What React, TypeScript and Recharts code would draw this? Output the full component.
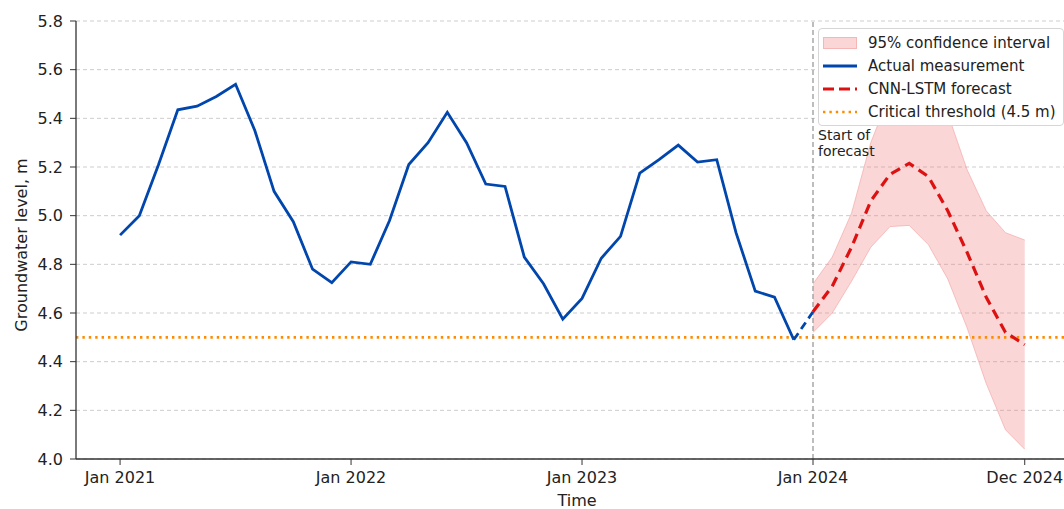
import {
  Area,
  CartesianGrid,
  ComposedChart,
  Legend,
  Line,
  ReferenceLine,
  XAxis,
  YAxis,
} from "recharts"

// monthly measured groundwater level, Jan 2021 .. Dec 2023
const actualLevels = [
  4.92, 5.0, 5.21, 5.435, 5.45, 5.49, 5.54, 5.35, 5.1, 4.975, 4.78, 4.725,
  4.81, 4.8, 4.98, 5.21, 5.3, 5.425, 5.3, 5.13, 5.12, 4.83, 4.72, 4.575,
  4.66, 4.825, 4.915, 5.175, 5.23, 5.29, 5.22, 5.23, 4.93, 4.69, 4.665, 4.49,
]

// CNN-LSTM forecast, Jan 2024 .. Dec 2024
const forecastLevels = [
  4.605, 4.71, 4.87, 5.06, 5.17, 5.215, 5.16, 5.02, 4.85, 4.665, 4.52, 4.47,
]
const ciLower = [4.52, 4.6, 4.73, 4.87, 4.955, 4.96, 4.88, 4.74, 4.54, 4.31, 4.12, 4.04]
const ciUpper = [4.72, 4.83, 5.01, 5.3, 5.5, 5.58, 5.58, 5.42, 5.19, 5.02, 4.93, 4.9]

const xTickMonths = [0, 12, 24, 36, 47]
const xTickLabels = ["Jan 2021", "Jan 2022", "Jan 2023", "Jan 2024", "Dec 2024"]
const yTicks = [4.0, 4.2, 4.4, 4.6, 4.8, 5.0, 5.2, 5.4, 5.6, 5.8]
const threshold = 4.5

const forecastStart = actualLevels.length
const FONT = "'DejaVu Sans', sans-serif"
const BLUE = "#0046ad"
const RED = "#dd1111"
const ORANGE = "#ff8c00"
const BAND = "#f08080"

const chartData = Array.from(
  { length: actualLevels.length + forecastLevels.length },
  (_, m) => {
    const i = m - forecastStart
    return {
      m,
      actual: m < forecastStart ? actualLevels[m] : undefined,
      forecast: i >= 0 ? forecastLevels[i] : undefined,
      band: i >= 0 ? [ciLower[i], ciUpper[i]] : undefined,
      bridge:
        m === forecastStart - 1
          ? actualLevels[m]
          : i === 0
          ? forecastLevels[0]
          : undefined,
    }
  }
)

const legendRows = [
  { key: "band", label: "95% confidence interval" },
  { key: "actual", label: "Actual measurement" },
  { key: "forecast", label: "CNN-LSTM forecast" },
  { key: "threshold", label: "Critical threshold (4.5 m)" },
]

function LegendHandle({ kind }: { kind: string }) {
  return (
    <svg width={34} height={14} style={{ display: "block" }}>
      {kind === "band" && (
        <rect
          x={0.5}
          y={1.5}
          width={33}
          height={11}
          fill={BAND}
          fillOpacity={0.32}
          stroke="#f2a0a0"
          strokeOpacity={0.7}
        />
      )}
      {kind === "actual" && (
        <line x1={0} y1={7} x2={34} y2={7} stroke={BLUE} strokeWidth={2.8} />
      )}
      {kind === "forecast" && (
        <line x1={0} y1={7} x2={34} y2={7} stroke={RED} strokeWidth={3.2} strokeDasharray="11 5" />
      )}
      {kind === "threshold" && (
        <line x1={0} y1={7} x2={34} y2={7} stroke={ORANGE} strokeWidth={2.6} strokeDasharray="2.4 4" />
      )}
    </svg>
  )
}

function LegendBox() {
  return (
    <div
      style={{
        background: "#fff",
        border: "1px solid #d6d6d6",
        borderRadius: 4,
        padding: "2px 4px 2px 4px",
        fontFamily: FONT,
        fontSize: 15,
        color: "#222",
      }}
    >
      {legendRows.map((r) => (
        <div key={r.key} style={{ display: "flex", alignItems: "center", height: 23 }}>
          <LegendHandle kind={r.key} />
          <span style={{ marginLeft: 11, whiteSpace: "nowrap" }}>{r.label}</span>
        </div>
      ))}
    </div>
  )
}

export default function App() {
  const tickStyle = { fill: "#222", fontSize: 16, fontFamily: FONT }
  return (
    <div style={{ position: "absolute", left: 0, top: 0, background: "#fff" }}>
      <ComposedChart
        width={1064}
        height={509}
        data={chartData}
        margin={{ top: 21, right: 0, bottom: 0, left: 0 }}
      >
        <CartesianGrid vertical={false} stroke="#cdcdcd" strokeDasharray="4 3" />
        <XAxis
          dataKey="m"
          type="number"
          domain={[-2.29, 49.04]}
          allowDataOverflow
          ticks={xTickMonths}
          tickFormatter={(v: number) => xTickLabels[xTickMonths.indexOf(v)] ?? ""}
          height={50}
          tickSize={6}
          tickMargin={7}
          tick={tickStyle}
          stroke="#333"
          axisLine={{ stroke: "#333", strokeWidth: 1.3 }}
          label={(props: any) => {
            const vb = props.viewBox
            return (
              <text
                x={vb.x + vb.width / 2 + 7}
                y={vb.y + 47}
                textAnchor="middle"
                fontSize={16}
                fontFamily={FONT}
                fill="#222"
              >
                Time
              </text>
            )
          }}
        />
        <YAxis
          domain={[4.0, 5.8]}
          allowDataOverflow
          ticks={yTicks}
          tickFormatter={(v: number) => v.toFixed(1)}
          width={76}
          tickSize={6}
          tickMargin={7}
          tick={tickStyle}
          stroke="#333"
          axisLine={{ stroke: "#333", strokeWidth: 1.3 }}
          label={(props: any) => {
            const vb = props.viewBox
            const cx = vb.x + 21
            const cy = vb.y + vb.height / 2 + 5
            return (
              <text
                transform={`translate(${cx},${cy}) rotate(-90)`}
                textAnchor="middle"
                dominantBaseline="central"
                fontSize={16}
                fontFamily={FONT}
                fill="#222"
              >
                Groundwater level, m
              </text>
            )
          }}
        />
        <Area
          dataKey="band"
          type="linear"
          fill={BAND}
          fillOpacity={0.32}
          stroke="#f2a0a0"
          strokeOpacity={0.6}
          strokeWidth={1}
          isAnimationActive={false}
        />
        <ReferenceLine
          y={threshold}
          stroke={ORANGE}
          strokeWidth={2.6}
          strokeDasharray="2.4 4"
        />
        <ReferenceLine
          x={forecastStart}
          stroke="#9a9a9a"
          strokeWidth={1.3}
          strokeDasharray="5 3"
          label={(props: any) => {
            const vb = props.viewBox
            return (
              <text x={vb.x + 5} y={vb.y + 119} fontSize={14} fontFamily={FONT} fill="#222">
                <tspan x={vb.x + 5}>Start of</tspan>
                <tspan x={vb.x + 5} dy={16}>
                  forecast
                </tspan>
              </text>
            )
          }}
        />
        <Line
          dataKey="actual"
          type="linear"
          stroke={BLUE}
          strokeWidth={2.8}
          dot={false}
          isAnimationActive={false}
        />
        <Line
          dataKey="bridge"
          type="linear"
          stroke={BLUE}
          strokeWidth={2.8}
          strokeDasharray="8 5"
          dot={false}
          isAnimationActive={false}
        />
        <Line
          dataKey="forecast"
          type="linear"
          stroke={RED}
          strokeWidth={3.2}
          strokeDasharray="10 6"
          dot={false}
          isAnimationActive={false}
        />
        <Legend
          verticalAlign="middle"
          align="center"
          layout="horizontal"
          content={() => <LegendBox />}
          wrapperStyle={{ left: 818, top: 28, width: 246 }}
        />
      </ComposedChart>
    </div>
  )
}
